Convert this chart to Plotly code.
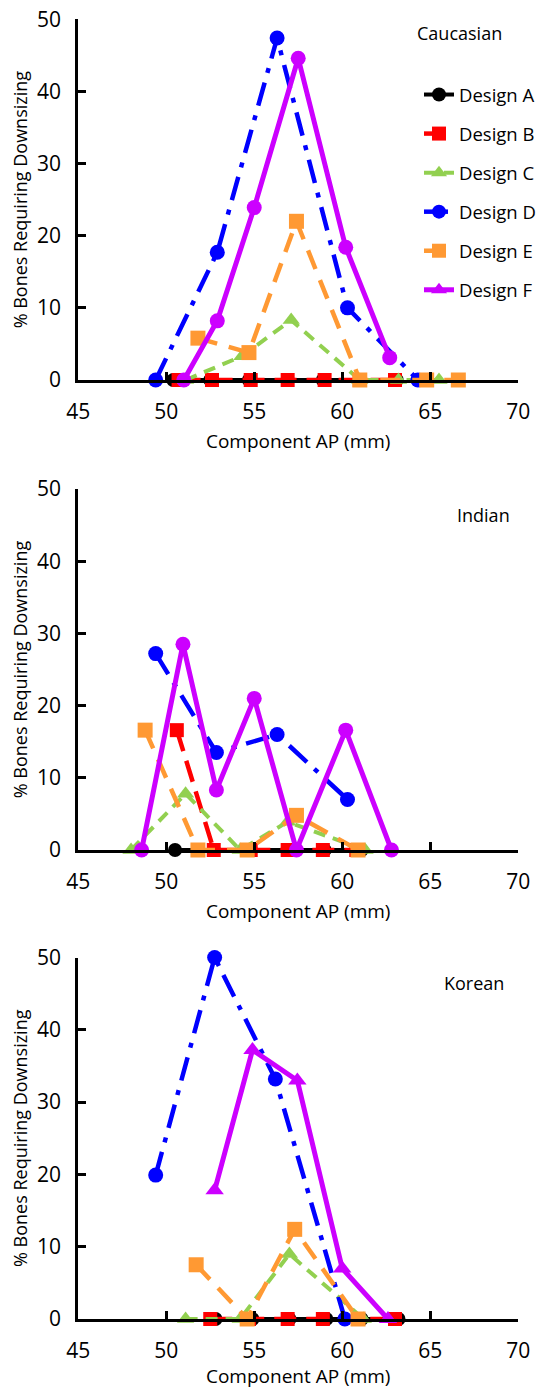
import plotly.graph_objects as go

# ---------------- data ----------------
designs = ["Design A", "Design B", "Design C", "Design D", "Design E", "Design F"]
panel_labels = ["Caucasian", "Indian", "Korean"]
x_ticks = [45, 50, 55, 60, 65, 70]
y_ticks = [0, 10, 20, 30, 40, 50]

# Caucasian
cau_A_x = [50.4, 52.5, 54.7, 56.9, 58.9, 61.0, 63.1]
cau_A_y = [0, 0, 0, 0, 0, 0, 0]
cau_B_x = [50.7, 52.6, 54.8, 56.9, 59.0, 61.0, 63.0]
cau_B_y = [0, 0, 0, 0, 0, 0, 0]
cau_C_x = [51.1, 54.3, 57.1, 61.0, 63.2, 65.5]
cau_C_y = [0, 3.3, 8.3, 0, 0, 0]
cau_D_x = [49.4, 52.9, 56.3, 60.3, 64.3]
cau_D_y = [0, 17.7, 47.4, 10.0, 0]
cau_E_x = [51.8, 54.7, 57.4, 61.0, 64.8, 66.6]
cau_E_y = [5.8, 3.8, 22.0, 0, 0, 0]
cau_F_x = [51.0, 52.9, 55.0, 57.5, 60.2, 62.7]
cau_F_y = [0, 8.2, 23.9, 44.6, 18.4, 3.1]

# Indian
ind_A_x = [50.5, 52.7, 54.8, 56.9, 59.0, 61.1]
ind_A_y = [0, 0, 0, 0, 0, 0]
ind_B_x = [50.6, 52.7, 54.8, 56.9, 58.9, 60.8]
ind_B_y = [16.6, 0, 0, 0, 0, 0]
ind_C_x = [48.0, 51.1, 54.2, 56.9, 61.3]
ind_C_y = [0, 7.8, 0, 3.9, 0]
ind_D_x = [49.4, 52.85, 56.3, 60.3]
ind_D_y = [27.2, 13.5, 16.0, 7.0]
ind_E_x = [48.8, 51.8, 54.6, 57.4, 60.9]
ind_E_y = [16.6, 0, 0, 4.8, 0]
ind_F_x = [48.6, 50.95, 52.85, 55.0, 57.4, 60.2, 62.8]
ind_F_y = [0, 28.5, 8.3, 21.0, 0, 16.6, 0]

# Korean
kor_A_x = [52.8, 54.9, 57.0, 59.1, 61.1, 63.2]
kor_A_y = [0, 0, 0, 0, 0, 0]
kor_B_x = [52.5, 54.7, 56.9, 58.9, 60.9, 63.0]
kor_B_y = [0, 0, 0, 0, 0, 0]
kor_C_x = [51.1, 54.2, 57.0, 61.2]
kor_C_y = [0, 0, 9.0, 0]
kor_D_x = [49.4, 52.75, 56.2, 60.15]
kor_D_y = [19.9, 50.0, 33.2, 0]
kor_E_x = [51.7, 54.6, 57.3, 60.9]
kor_E_y = [7.5, 0, 12.4, 0]
kor_F_x = [52.75, 54.9, 57.45, 60.0, 62.6]
kor_F_y = [17.8, 37.2, 33.0, 7.0, 0]

# ---------------- styles ----------------
FONT = "Open Sans"
styles = {
    "Design A": dict(color="#000000", dash="solid", symbol="circle", size=14, width=4),
    "Design B": dict(color="#FF0000", dash="22px,10px", symbol="square", size=14, width=4.5),
    "Design C": dict(color="#92D050", dash="12px,8px", symbol="triangle-up", size=15, width=4),
    "Design D": dict(color="#0000FF", dash="24px,10px,5px,10px", symbol="circle", size=15, width=4.5),
    "Design E": dict(color="#FF9933", dash="20px,12px", symbol="square", size=15, width=4.5),
    "Design F": dict(color="#CC00FF", dash="solid", symbol="circle", size=15, width=5),
}

panels = [
    [(cau_A_x, cau_A_y), (cau_B_x, cau_B_y), (cau_C_x, cau_C_y),
     (cau_D_x, cau_D_y), (cau_E_x, cau_E_y), (cau_F_x, cau_F_y)],
    [(ind_A_x, ind_A_y), (ind_B_x, ind_B_y), (ind_C_x, ind_C_y),
     (ind_D_x, ind_D_y), (ind_E_x, ind_E_y), (ind_F_x, ind_F_y)],
    [(kor_A_x, kor_A_y), (kor_B_x, kor_B_y), (kor_C_x, kor_C_y),
     (kor_D_x, kor_D_y), (kor_E_x, kor_E_y), (kor_F_x, kor_F_y)],
]
# Design F uses triangles in the Korean panel (and in the legend)
f_symbols = ["circle", "circle", "triangle-up"]
f_sizes = [15, 15, 16]

W, H = 541, 1389
x_dom = [79 / W, 523 / W]
y_doms = [
    [1 - 380 / H, 1 - 19.3 / H],
    [1 - 850 / H, 1 - 489 / H],
    [1 - 1319 / H, 1 - 957.5 / H],
]

fig = go.Figure()

# legend-only entries
for name in designs:
    s = styles[name]
    sym = "triangle-up" if name == "Design F" else s["symbol"]
    fig.add_trace(go.Scatter(
        x=[None], y=[None], mode="lines+markers", name=name,
        legendgroup=name, showlegend=True,
        line=dict(color=s["color"], dash=s["dash"], width=s["width"]),
        marker=dict(symbol=sym, size=14, color=s["color"]),
        xaxis="x", yaxis="y",
    ))

for p, series in enumerate(panels):
    xa = "x" if p == 0 else f"x{p+1}"
    ya = "y" if p == 0 else f"y{p+1}"
    for name, (xs, ys) in zip(designs, series):
        s = styles[name]
        sym = f_symbols[p] if name == "Design F" else s["symbol"]
        size = f_sizes[p] if name == "Design F" else s["size"]
        fig.add_trace(go.Scatter(
            x=xs, y=ys, mode="lines+markers", name=name,
            legendgroup=name, showlegend=False, cliponaxis=False,
            line=dict(color=s["color"], dash=s["dash"], width=s["width"]),
            marker=dict(symbol=sym, size=size, color=s["color"]),
            xaxis=xa, yaxis=ya,
        ))

layout = dict(
    width=W, height=H,
    margin=dict(l=0, r=0, t=0, b=0),
    paper_bgcolor="white", plot_bgcolor="white",
    font=dict(family=FONT, color="black", size=18),
    legend=dict(
        x=423 / W, xanchor="left", y=1 - 76 / H, yanchor="top",
        font=dict(family=FONT, size=18.5, color="black"),
        bgcolor="rgba(0,0,0,0)", borderwidth=0,
        tracegroupgap=12, traceorder="grouped",
    ),
    annotations=[],
)

label_pos = [(464, 33), (488, 515), (478, 983)]
for p in range(3):
    xk = "xaxis" if p == 0 else f"xaxis{p+1}"
    yk = "yaxis" if p == 0 else f"yaxis{p+1}"
    ya_ref = "y" if p == 0 else f"y{p+1}"
    xa_ref = "x" if p == 0 else f"x{p+1}"
    layout[xk] = dict(
        domain=x_dom, anchor=ya_ref, range=[45, 70],
        tickmode="array", tickvals=x_ticks, ticktext=[str(v) for v in x_ticks],
        showline=True, linecolor="black", linewidth=3,
        ticks="inside", ticklen=8, tickwidth=2.5, tickcolor="black",
        showgrid=False, zeroline=False, fixedrange=True,
        tickfont=dict(family=FONT, size=21, color="black"),
        ticklabelstandoff=11,
        title=dict(text="Component AP (mm)", standoff=11,
                   font=dict(family=FONT, size=19, color="black")),
        automargin=False,
    )
    layout[yk] = dict(
        domain=y_doms[p], anchor=xa_ref, range=[0, 50],
        tickmode="array", tickvals=y_ticks, ticktext=[str(v) for v in y_ticks],
        showline=True, linecolor="black", linewidth=3,
        ticks="inside", ticklen=8, tickwidth=2.5, tickcolor="black",
        showgrid=False, zeroline=False, fixedrange=True,
        tickfont=dict(family=FONT, size=21, color="black"),
        ticklabelstandoff=10,
        title=dict(text="% Bones Requiring Downsizing", standoff=5,
                   font=dict(family=FONT, size=18, color="black")),
        automargin=False,
    )
    lx, ly = label_pos[p]
    layout["annotations"].append(dict(
        text=panel_labels[p], xref="paper", yref="paper",
        x=lx / W, y=1 - ly / H, xanchor="center", yanchor="middle",
        showarrow=False, font=dict(family=FONT, size=18, color="black"),
    ))

fig.update_layout(**layout)
fig.write_html(
    "out.html",
    config={"displayModeBar": False},
    post_script="document.body.style.margin='0px';document.body.style.overflow='hidden';",
)
